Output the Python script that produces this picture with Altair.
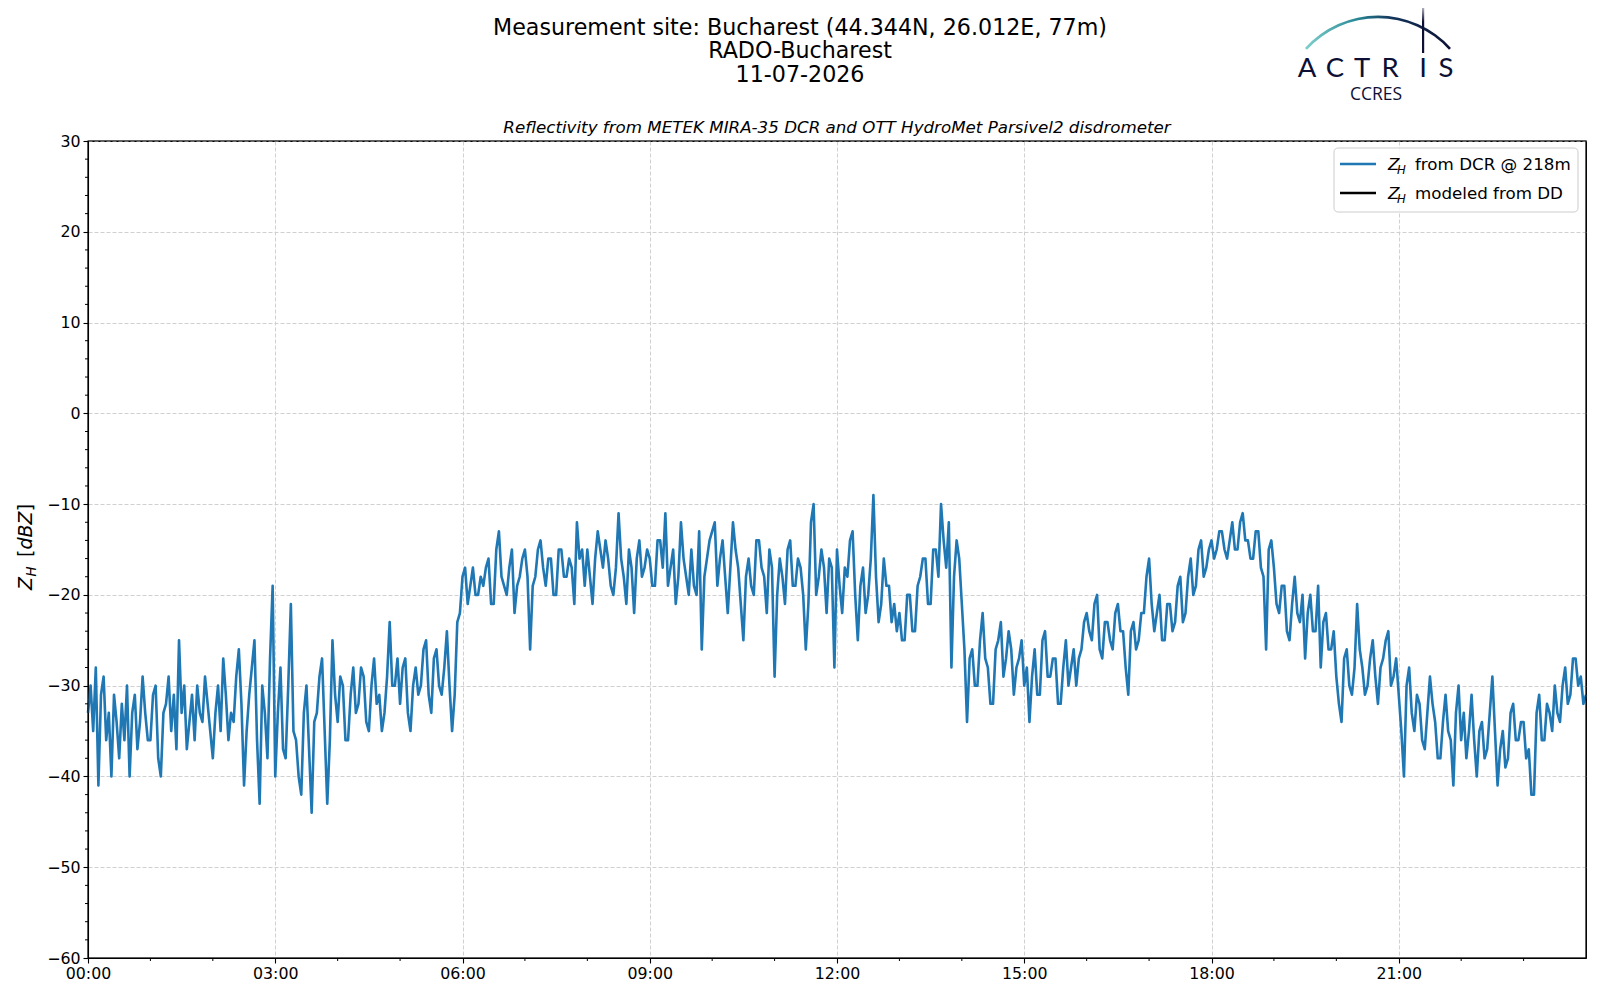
import altair as alt
import pandas as pd

# Reflectivity Z_H [dBZ] from DCR @ 218m, 2.5-minute steps, one list per hour
zh_00 = [-33,-30,-35,-28,-41,-31,-29,-36,-33,-40,-31,-34,-38,-32,-36,-30,-40,-33,-31,-37,-34,-29,-33,-36]
zh_01 = [-36,-31,-30,-38,-40,-33,-32,-29,-35,-31,-37,-25,-33,-30,-37,-34,-31,-36,-30,-33,-34,-29,-32,-35]
zh_02 = [-38,-33,-30,-35,-27,-31,-36,-33,-34,-29,-26,-32,-41,-35,-31,-28,-25,-36,-43,-30,-33,-38,-27,-19]
zh_03 = [-40,-33,-28,-37,-38,-30,-21,-35,-36,-40,-42,-33,-30,-37,-44,-34,-33,-29,-27,-35,-43,-36,-25,-31]
zh_04 = [-34,-29,-30,-36,-36,-31,-28,-33,-32,-28,-29,-34,-35,-30,-27,-32,-31,-35,-33,-29,-23,-30,-30,-27]
zh_05 = [-32,-28,-27,-33,-35,-30,-28,-31,-30,-26,-25,-31,-33,-27,-26,-30,-31,-28,-24,-30,-35,-31,-23,-22]
zh_06 = [-18,-17,-21,-19,-17,-20,-20,-18,-19,-17,-16,-21,-21,-15,-13,-18,-19,-20,-17,-15,-22,-19,-18,-16]
zh_07 = [-15,-18,-26,-19,-18,-15,-14,-17,-19,-16,-16,-20,-20,-15,-15,-18,-18,-16,-17,-21,-12,-16,-15,-19]
zh_08 = [-15,-18,-21,-16,-13,-15,-17,-14,-16,-19,-20,-17,-11,-16,-18,-21,-15,-17,-22,-16,-14,-18,-17,-15]
zh_09 = [-16,-19,-19,-14,-14,-17,-11,-19,-17,-15,-21,-18,-12,-16,-18,-20,-15,-19,-20,-13,-26,-18,-16,-14]
zh_10 = [-13,-12,-19,-16,-14,-18,-22,-17,-12,-15,-17,-21,-25,-18,-16,-19,-20,-14,-14,-17,-18,-22,-15,-17]
zh_11 = [-29,-20,-16,-18,-21,-15,-14,-19,-19,-16,-17,-20,-26,-21,-12,-10,-20,-18,-15,-17,-22,-16,-17,-28]
zh_12 = [-15,-19,-22,-17,-18,-14,-13,-20,-25,-19,-17,-22,-20,-16,-9,-18,-23,-21,-16,-19,-19,-23,-21,-24]
zh_13 = [-22,-25,-25,-20,-20,-24,-24,-19,-18,-16,-16,-21,-21,-15,-15,-18,-10,-14,-17,-12,-28,-18,-14,-16]
zh_14 = [-21,-26,-34,-27,-26,-30,-30,-25,-22,-27,-28,-32,-32,-26,-25,-23,-29,-27,-24,-26,-31,-28,-27,-25]
zh_15 = [-30,-28,-34,-29,-26,-31,-31,-25,-24,-29,-29,-27,-27,-32,-32,-28,-25,-30,-28,-26,-30,-27,-26,-23]
zh_16 = [-22,-24,-25,-21,-20,-26,-27,-23,-23,-25,-26,-22,-21,-24,-24,-28,-31,-24,-23,-26,-25,-22,-22,-18]
zh_17 = [-16,-21,-24,-22,-20,-25,-25,-21,-21,-24,-23,-19,-18,-23,-22,-18,-16,-20,-19,-15,-14,-18,-17,-15]
zh_18 = [-14,-16,-15,-13,-13,-15,-16,-14,-12,-15,-15,-12,-11,-14,-14,-16,-16,-13,-13,-17,-18,-26,-15,-14]
zh_19 = [-17,-21,-22,-19,-19,-24,-25,-21,-18,-22,-23,-20,-27,-22,-20,-24,-24,-19,-28,-23,-22,-26,-26,-24]
zh_20 = [-29,-32,-34,-27,-26,-30,-31,-28,-21,-26,-28,-31,-30,-27,-25,-29,-32,-28,-27,-25,-24,-30,-29,-27]
zh_21 = [-31,-35,-40,-30,-28,-33,-35,-31,-32,-36,-37,-33,-29,-32,-34,-38,-38,-34,-31,-35,-36,-41,-33,-30]
zh_22 = [-36,-33,-38,-35,-31,-36,-40,-35,-34,-38,-37,-33,-29,-35,-41,-37,-35,-39,-38,-33,-32,-36,-36,-34]
zh_23 = [-34,-38,-37,-42,-42,-33,-31,-36,-36,-32,-33,-35,-30,-33,-34,-30,-28,-32,-31,-27,-27,-30,-29,-32]
zh_end = [-31]

hour_ticks = [0, 3, 6, 9, 12, 15, 18, 21]
hour_minor = [1, 2, 4, 5, 7, 8, 10, 11, 13, 14, 16, 17, 19, 20, 22, 23]
y_ticks = [-60, -50, -40, -30, -20, -10, 0, 10, 20, 30]
y_minor = [v for v in range(-58, 30, 2) if v % 10 != 0]

title_lines = ["Measurement site: Bucharest (44.344N, 26.012E, 77m)", "RADO-Bucharest", "11-07-2026"]
subtitle = "Reflectivity from METEK MIRA-35 DCR and OTT HydroMet Parsivel2 disdrometer"

series = (zh_00 + zh_01 + zh_02 + zh_03 + zh_04 + zh_05 + zh_06 + zh_07 + zh_08 + zh_09 +
          zh_10 + zh_11 + zh_12 + zh_13 + zh_14 + zh_15 + zh_16 + zh_17 + zh_18 + zh_19 +
          zh_20 + zh_21 + zh_22 + zh_23 + zh_end)
step_h = 2.5 / 60.0
df = pd.DataFrame({"hour": [i * step_h for i in range(len(series))], "zh": series})

W, H = 1498, 817
FONT = "DejaVu Sans"
BLUE = "#1f77b4"
NAVY = "#0d1035"

xs = alt.Scale(domain=[0, 24], nice=False, zero=False)
ys = alt.Scale(domain=[-60, 30], nice=False, zero=False)

x_axis = alt.Axis(values=hour_ticks, labelExpr="(datum.value < 10 ? '0' : '') + datum.value + ':00'",
                  grid=True, gridDash=[4, 2], gridColor="#d0d0d0", gridWidth=1,
                  tickSize=5, tickColor="black", tickWidth=1.1, domainColor="black", domainWidth=1.1,
                  labelFont=FONT, labelFontSize=15.8, labelColor="black", labelPadding=3,
                  labelFlush=False, title=None)
y_axis = alt.Axis(values=y_ticks, labelExpr="datum.value < 0 ? '\u2212' + (-datum.value) : '' + datum.value",
                  grid=True, gridDash=[4, 2], gridColor="#d0d0d0", gridWidth=1,
                  tickSize=5, tickColor="black", tickWidth=1.1, domainColor="black", domainWidth=1.1,
                  labelFont=FONT, labelFontSize=15.8, labelColor="black", labelPadding=3,
                  labelFlush=False, title=None)

line = alt.Chart(df).mark_line(color=BLUE, strokeWidth=2.6, strokeJoin="round").encode(
    x=alt.X("hour:Q", scale=xs, axis=x_axis),
    y=alt.Y("zh:Q", scale=ys, axis=y_axis),
)

minor_y = alt.Chart(pd.DataFrame({"v": y_minor})).mark_rule(color="black", strokeWidth=1).encode(
    y=alt.Y("v:Q", scale=ys, axis=y_axis), x=alt.value(-3), x2=alt.value(0))
minor_x = alt.Chart(pd.DataFrame({"h": hour_minor})).mark_rule(color="black", strokeWidth=1).encode(
    x=alt.X("h:Q", scale=xs, axis=x_axis), y=alt.value(H), y2=alt.value(H + 3))

one = pd.DataFrame({"a": [0]})

frame = alt.Chart(one).mark_rect(fill="transparent", stroke="black", strokeWidth=1.1).encode(
    x=alt.value(0), x2=alt.value(W), y=alt.value(0), y2=alt.value(H))


def txt(s, x, y, size, italic=False, align="left", angle=0, color="black", font=FONT, weight="normal"):
    kw = dict(text=s, font=font, fontSize=size, align=align, baseline="alphabetic", color=color,
              fontStyle="italic" if italic else "normal", fontWeight=weight)
    if angle:
        kw["angle"] = angle
    return alt.Chart(one).mark_text(**kw).encode(x=alt.value(x), y=alt.value(y))

layers = [line, minor_y, minor_x, frame]

# titles
layers.append(txt(title_lines[0], 712, -106, 22.2, align="center"))
layers.append(txt(title_lines[1], 712, -83, 22.2, align="center"))
layers.append(txt(title_lines[2], 712, -59.5, 22.2, align="center"))
layers.append(txt(subtitle, W / 2, -8, 16.7, italic=True, align="center"))

# y-axis label  Z_H [dBZ]
layers.append(txt("Z", -56, 449, 19, italic=True, angle=270))
layers.append(txt("H", -52, 435.5, 13.3, italic=True, angle=270))
layers.append(txt("[", -56, 416, 19, angle=270))
layers.append(txt("dBZ", -56, 408.6, 19, italic=True, angle=270))
layers.append(txt("]", -56, 370.3, 19, angle=270))

# legend
legend_box = alt.Chart(one).mark_rect(fill="white", fillOpacity=0.85, stroke="#cccccc", strokeWidth=1,
                                      cornerRadius=4).encode(
    x=alt.value(1246), x2=alt.value(1490), y=alt.value(7), y2=alt.value(71))
layers.append(legend_box)
layers.append(alt.Chart(one).mark_rule(color=BLUE, strokeWidth=2.6).encode(
    x=alt.value(1252), x2=alt.value(1288), y=alt.value(23)))
layers.append(alt.Chart(one).mark_rule(color="black", strokeWidth=2.6).encode(
    x=alt.value(1252), x2=alt.value(1288), y=alt.value(52)))
for yb, label in [(29, "from DCR @ 218m"), (58, "modeled from DD")]:
    layers.append(txt("Z", 1300, yb, 16.7, italic=True))
    layers.append(txt("H", 1309, yb + 3.5, 11.7, italic=True))
    layers.append(txt(label, 1327, yb, 16.7))

# ACTRIS logo
arc_grad = alt.LinearGradient(gradient="linear", x1=0, x2=1, y1=0, y2=0,
                              stops=[alt.GradientStop(color="#7fd0cb", offset=0),
                                     alt.GradientStop(color="#2a8a98", offset=0.35),
                                     alt.GradientStop(color="#13345a", offset=0.6),
                                     alt.GradientStop(color=NAVY, offset=1)])
layers.append(alt.Chart(one).mark_arc(theta=5.448, theta2=7.118, radius=98.5, radius2=95.8,
                                      fill=arc_grad).encode(x=alt.value(1290), y=alt.value(-27)))
bar_grad = alt.LinearGradient(gradient="linear", x1=0, x2=0, y1=0, y2=1,
                              stops=[alt.GradientStop(color="#ffffff", offset=0),
                                     alt.GradientStop(color=NAVY, offset=0.4),
                                     alt.GradientStop(color=NAVY, offset=1)])
layers.append(alt.Chart(one).mark_rect(fill=bar_grad).encode(
    x=alt.value(1334), x2=alt.value(1336.2), y=alt.value(-140), y2=alt.value(-88)))
for ch, cx in zip("ACTRIS", [1219, 1247, 1274, 1302, 1335, 1358]):
    layers.append(txt(ch, cx, -64, 27.5, align="center", color=NAVY, font="Lato"))
layers.append(txt("CCRES", 1288, -41, 17.5, align="center", color=NAVY, font="Open Sans"))

chart = alt.layer(*layers).properties(
    width=W, height=H,
    autosize=alt.AutoSizeParams(type="none"),
    padding={"left": 80, "top": 133, "right": 6, "bottom": 30},
).configure_view(stroke="black", strokeWidth=1.1)

chart.save("out.html", embed_options={"renderer": "svg", "actions": False})
